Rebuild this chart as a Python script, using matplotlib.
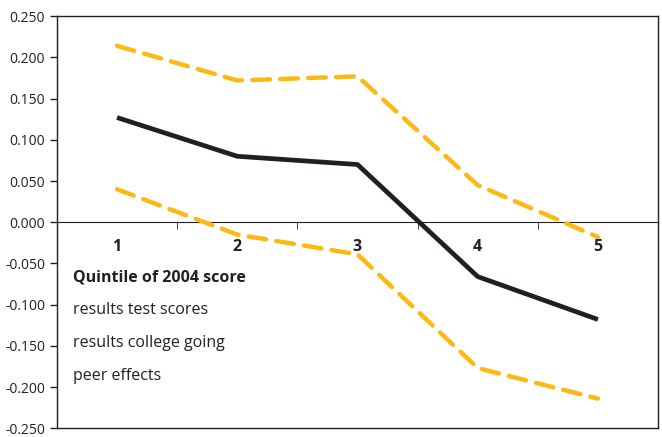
import matplotlib
matplotlib.use("Agg")
import matplotlib.pyplot as plt

plt.rcParams['font.family'] = ['Open Sans', 'DejaVu Sans']

quintiles = [1, 2, 3, 4, 5]
estimate = [0.127, 0.080, 0.070, -0.066, -0.118]
upper = [0.214, 0.172, 0.177, 0.045, -0.018]
lower = [0.040, -0.015, -0.039, -0.177, -0.214]
y_ticks = [-0.25, -0.2, -0.15, -0.1, -0.05, 0.0, 0.05, 0.1, 0.15, 0.2, 0.25]
notes = ["results test scores", "results college going", "peer effects"]

gold = '#FDB913'
ink = '#231F20'

fig = plt.figure(figsize=(6.62, 4.37), dpi=100)
ax = fig.add_axes([0.086, 0.02, 0.908, 0.943])

dash = (0, (4, 2.3))
ax.plot(quintiles, upper, color=gold, lw=3.2, ls=dash, dash_capstyle='round', dash_joinstyle='round')
ax.plot(quintiles, lower, color=gold, lw=3.2, ls=dash, dash_capstyle='round', dash_joinstyle='round')
ax.plot(quintiles, estimate, color=ink, lw=3.4, solid_joinstyle='round', solid_capstyle='butt')

ax.set_xlim(0.5, 5.5)
ax.set_ylim(-0.25, 0.25)
ax.set_yticks(y_ticks)
ax.set_yticklabels([f"{v:.3f}" for v in y_ticks])
ax.tick_params(axis='y', direction='out', length=5, labelsize=10, colors=ink, width=1)
ax.set_xticks([])
for s in ax.spines.values():
    s.set_color(ink)
    s.set_linewidth(1)

# zero line with category labels underneath
sec = ax.secondary_xaxis(0.5)
sec.set_alignment('bottom')
sec.spines['bottom'].set_color(ink)
sec.set_xticks(quintiles)
sec.set_xticklabels([str(q) for q in quintiles], fontweight='bold', fontsize=11.5)
sec.set_xticks([1.5, 2.5, 3.5, 4.5], minor=True)
sec.tick_params(axis='x', which='major', length=0, pad=12, colors=ink)
sec.tick_params(axis='x', which='minor', length=5, direction='out', color=ink)

ax.text(0.027, 0.366, "Quintile of 2004 score", transform=ax.transAxes, fontsize=11.5,
        fontweight='bold', va='center', color=ink)
for i, t in enumerate(notes):
    ax.text(0.027, 0.286 - 0.08 * i, t, transform=ax.transAxes, fontsize=11.5,
            va='center', color=ink)

fig.savefig("out.png", dpi=100)
